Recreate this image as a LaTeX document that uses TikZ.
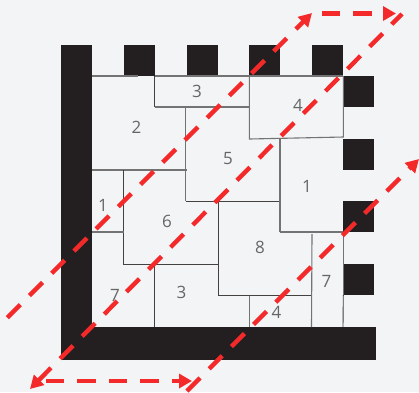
\documentclass[tikz,border=0pt]{standalone}
\usepackage{fontspec}
\setmainfont{Open Sans}
\usetikzlibrary{arrows.meta}
\definecolor{bg}{HTML}{F2F4F6}
\definecolor{blk}{HTML}{231F20}
\definecolor{redl}{HTML}{F42A2A}
\definecolor{txt}{HTML}{666666}
\tikzset{
 x=1pt,y=-1pt,
 blockfill/.style={fill=blk,draw=none},
 cell/.style={draw=blk!85,line width=0.9pt},
 cellg/.style={draw=black!55,line width=1.1pt},
 num/.style={text=txt,font=\fontsize{17}{17}\selectfont,inner sep=0pt},
 redpath/.style={draw=redl,line width=4.4pt,dash pattern=on 18.4pt off 13pt},
 redtip/.style={-{Triangle[length=13pt,width=14pt,fill=redl]}},
}
\begin{document}
\begin{tikzpicture}
\useasboundingbox[fill=bg] (0,0) rectangle (419,392);
% black frame
\fill[blockfill] (61,45) rectangle (92,360);
\fill[blockfill] (61,327) rectangle (376,360);
\foreach \x in {124,187,249,312} \fill[blockfill] (\x,45) rectangle ++(31,31);
\foreach \y in {76,139,201,264} \fill[blockfill] (343,\y) rectangle ++(31,31);
% cells
\draw[cellg] (92,76) -- (138,76);
\draw[cellg] (155,76) -- (343,76);
\draw[cell] (154.5,76) -- (154.5,107);
\draw[cellg] (154.5,107) -- (249,107);
\draw[cellg] (185.7,107) -- (185.7,201);
\draw[cellg] (92,170) -- (186.5,170);
\draw[cell] (123.5,170) -- (123.5,264.5);
\draw[cellg] (92,232) -- (123.5,232);
\draw[cell] (123.5,264.5) -- (218,264.5);
\draw[cell] (186,201.5) -- (280,201.5);
\draw[cell] (218.2,201.5) -- (218.2,295.5);
\draw[cell] (218.2,295.5) -- (312,295.5);
\draw[cell] (154.5,264.5) -- (154.5,327);
\draw[cellg] (280,139) -- (280,232);
\draw[cellg] (280,232) -- (343,232);
\draw[cellg] (249.3,76) -- (249.3,139) -- (343.3,137) -- (343.3,76);
\draw[cellg] (312,234) -- (311.5,327);
\draw[cellg] (343.5,232) -- (343.5,295);
\draw[cell] (343.3,295) -- (343,327);
\draw[cellg] (249.3,295.5) -- (249.3,327);
% numbers
\node[num] (n3a) at (197,91) {3};
\node[num] (n2) at (136.5,127) {2};
\node[num] (n4a) at (298,105) {4};
\node[num] (n5) at (228,158.5) {5};
\node[num] (n1a) at (307,186.5) {1};
\node[num] (n1b) at (103,205) {1};
\node[num] (n6) at (167,221) {6};
\node[num] (n7a) at (115,295) {7};
\node[num] (n3b) at (181.5,292) {3};
\node[num] (n8) at (260,247) {8};
\node[num] (n7b) at (326.5,281) {7};
\node[num] (n4b) at (276.5,312) {4};
% red arrows
\coordinate (a0) at (7.3,317.7);
\coordinate (a1) at (312,13);
\coordinate (a2) at (396,13.5);
\coordinate (a3) at (322,13.5);
\coordinate (b0) at (402,14);
\coordinate (b1) at (30,389);
\coordinate (c0) at (46,381);
\coordinate (c1) at (192,381);
\coordinate (d0) at (187,391);
\coordinate (d1) at (419,159);
\draw[redpath,redtip] (a0) -- (a1);
\draw[redpath,redtip,dash phase=3.9pt] (b0) -- (b1);
\draw[redpath,redtip] (d0) -- (d1);
\draw[redpath,redtip] (c0) -- (c1);
\draw[redpath,redtip] (a3) -- (a2);
\end{tikzpicture}
\end{document}
